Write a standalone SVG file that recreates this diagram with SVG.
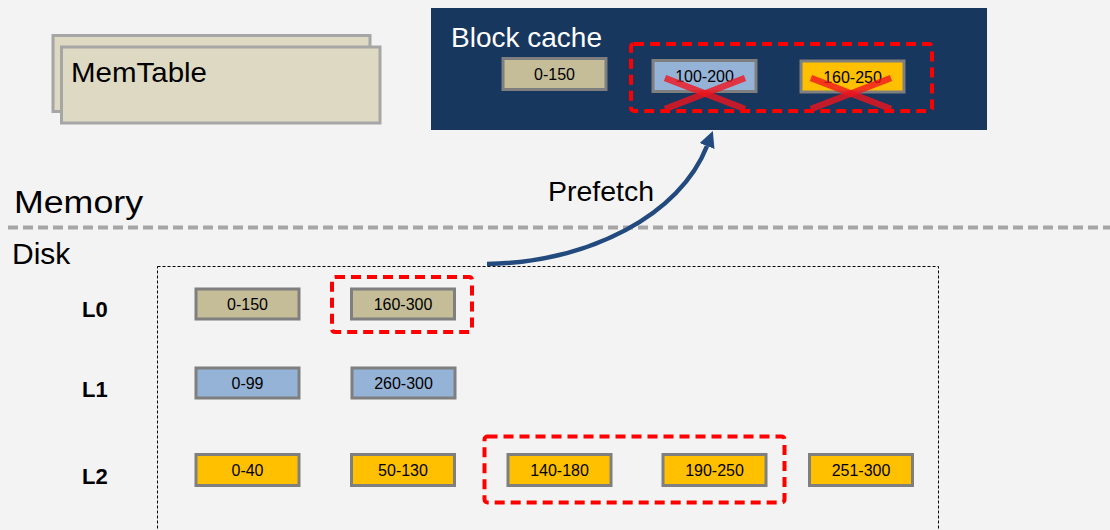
<svg xmlns="http://www.w3.org/2000/svg" width="1110" height="530" viewBox="0 0 1110 530">
  <style>
    .t { font-family: "Liberation Sans", Arial, sans-serif; fill: #000; }
    .big { font-size: 28px; }
    .lvl { font-size: 22px; font-weight: bold; }
    .lbl { font-size: 16px; text-anchor: middle; }
    .sst { stroke: #7f7f7f; stroke-width: 3; }
    .tan { fill: #c4bd97; }
    .blue { fill: #95b3d7; }
    .gold { fill: #ffc000; }
    .hl { fill: none; stroke: #ff0000; stroke-width: 4; stroke-dasharray: 10 6; }
    .mem { fill: #ddd9c3; stroke: #a6a6a6; stroke-width: 3; }
    .cross { stroke: #f0141e; stroke-width: 6.5; stroke-opacity: 0.8; stroke-linecap: butt; }
  </style>
  <defs>
    <marker id="arrowHead" markerUnits="userSpaceOnUse" markerWidth="18" markerHeight="18" refX="0" refY="8" orient="auto">
      <path d="M0,0 L16,8 L0,16 z" fill="#224a7e"/>
    </marker>
  </defs>

  <!-- background -->
  <rect x="0" y="0" width="1110" height="530" fill="#f3f3f3"/>

  <!-- memory / disk divider -->
  <line x1="8" y1="227.5" x2="1110" y2="227.5" stroke="#a6a6a6" stroke-width="4" stroke-dasharray="10 5"/>
  <text class="t" x="14" y="213" font-size="31" textLength="129" lengthAdjust="spacingAndGlyphs">Memory</text>
  <text class="t" x="12" y="264" font-size="30">Disk</text>

  <!-- memtable stack -->
  <g id="memtable">
    <rect class="mem" x="53" y="35.5" width="317" height="76"/>
    <rect class="mem" x="61.5" y="47" width="318.5" height="76"/>
    <text class="t" x="71" y="82" font-size="28" textLength="136" lengthAdjust="spacingAndGlyphs">MemTable</text>
  </g>

  <!-- block cache -->
  <g id="block-cache">
    <rect x="431" y="8" width="556" height="122" fill="#17375e"/>
    <text class="t big" x="451" y="46.5" style="fill:#fff">Block cache</text>
    <g id="cache-0-150">
      <rect class="tan sst" x="503" y="58.5" width="103" height="31"/>
      <text class="t lbl" x="554.5" y="80">0-150</text>
    </g>
    <g id="cache-100-200">
      <rect class="blue sst" x="653" y="60.5" width="103" height="31"/>
      <text class="t lbl" x="704.5" y="82">100-200</text>
      <line class="cross" x1="665" y1="78" x2="745" y2="109"/>
      <line class="cross" x1="665" y1="109" x2="745" y2="78"/>
    </g>
    <g id="cache-160-250">
      <rect class="gold sst" x="801" y="61" width="103" height="31"/>
      <text class="t lbl" x="852.5" y="82.5">160-250</text>
      <line class="cross" x1="811" y1="78" x2="891" y2="109"/>
      <line class="cross" x1="811" y1="109" x2="891" y2="78"/>
    </g>
    <rect class="hl" x="631" y="44" width="301" height="67" rx="3"/>
  </g>

  <!-- disk levels -->
  <g id="disk">
    <rect x="157.5" y="266.5" width="781" height="280" fill="none" stroke="#000" stroke-width="1" stroke-dasharray="3 2"/>
  </g>

  <g id="level-0">
    <text class="t lvl" x="82" y="317">L0</text>
    <g id="l0-0-150">
      <rect class="tan sst" x="196" y="289" width="103" height="30"/>
      <text class="t lbl" x="247.5" y="310">0-150</text>
    </g>
    <g id="l0-160-300">
      <rect class="tan sst" x="351.5" y="289" width="103" height="30"/>
      <text class="t lbl" x="403" y="310">160-300</text>
    </g>
    <rect class="hl" x="332" y="277" width="140" height="55" rx="3"/>
  </g>

  <g id="level-1">
    <text class="t lvl" x="82" y="397">L1</text>
    <g id="l1-0-99">
      <rect class="blue sst" x="196" y="368" width="103" height="30"/>
      <text class="t lbl" x="247.5" y="389">0-99</text>
    </g>
    <g id="l1-260-300">
      <rect class="blue sst" x="352" y="368" width="103" height="30"/>
      <text class="t lbl" x="403.5" y="389">260-300</text>
    </g>
  </g>

  <g id="level-2">
    <text class="t lvl" x="82" y="484">L2</text>
    <g id="l2-0-40">
      <rect class="gold sst" x="196" y="454.5" width="103" height="31"/>
      <text class="t lbl" x="247.5" y="476">0-40</text>
    </g>
    <g id="l2-50-130">
      <rect class="gold sst" x="351.5" y="454.5" width="103" height="31"/>
      <text class="t lbl" x="403" y="476">50-130</text>
    </g>
    <g id="l2-140-180">
      <rect class="gold sst" x="508" y="454.5" width="103" height="31"/>
      <text class="t lbl" x="559.5" y="476">140-180</text>
    </g>
    <g id="l2-190-250">
      <rect class="gold sst" x="663" y="454.5" width="103" height="31"/>
      <text class="t lbl" x="714.5" y="476">190-250</text>
    </g>
    <g id="l2-251-300">
      <rect class="gold sst" x="809.5" y="454.5" width="103" height="31"/>
      <text class="t lbl" x="861" y="476">251-300</text>
    </g>
    <rect class="hl" x="484.5" y="436.5" width="300" height="66" rx="3"/>
  </g>

  <!-- prefetch connector -->
  <g id="connectors">
    <path d="M487,264 C590,262 680,215 707,146" fill="none" stroke="#224a7e" stroke-width="4.5" marker-end="url(#arrowHead)"/>
    <text class="t" x="548" y="200.5" font-size="28" textLength="106" lengthAdjust="spacingAndGlyphs">Prefetch</text>
  </g>
</svg>
